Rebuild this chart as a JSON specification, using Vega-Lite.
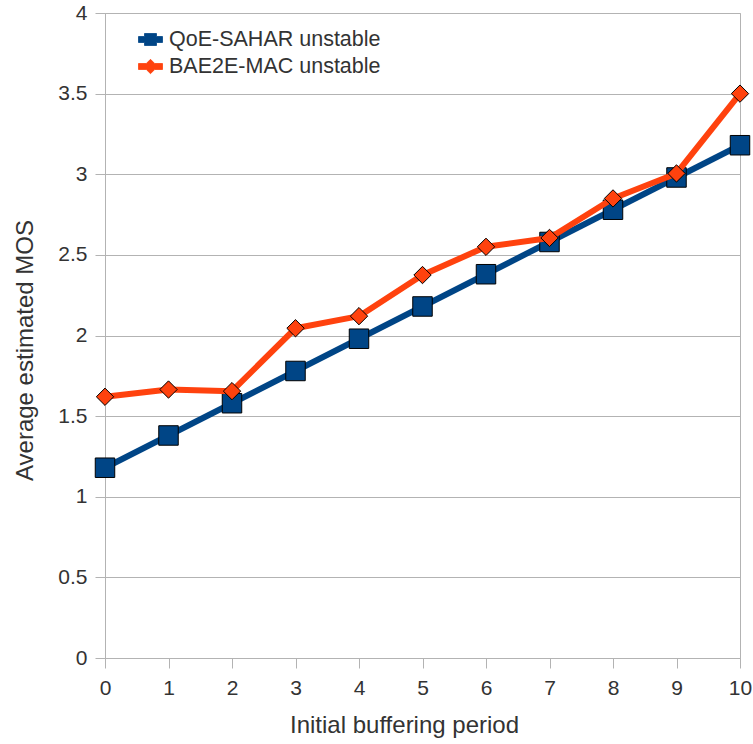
{
  "$schema": "https://vega.github.io/schema/vega-lite/v6.json",
  "width": 635,
  "height": 645,
  "autosize": {"type": "none"},
  "padding": {"left": 105, "top": 13, "right": 13, "bottom": 86},
  "background": "#ffffff",
  "config": {
    "font": "Liberation Sans",
    "view": {"stroke": "#b3b3b3", "strokeWidth": 1},
    "axis": {
      "labelFont": "Liberation Sans",
      "titleFont": "Liberation Sans",
      "labelColor": "#333333",
      "titleColor": "#333333",
      "labelFontSize": 21,
      "titleFontSize": 24,
      "titleFontWeight": "normal",
      "domainColor": "#b3b3b3",
      "tickColor": "#b3b3b3",
      "gridColor": "#b3b3b3",
      "gridWidth": 1,
      "tickSize": 10,
      "labelFlush": false,
      "labelOverlap": false
    }
  },
  "data": {
    "values": [
      {"period": 0, "series": "QoE-SAHAR unstable", "mos": 1.18},
      {"period": 1, "series": "QoE-SAHAR unstable", "mos": 1.38},
      {"period": 2, "series": "QoE-SAHAR unstable", "mos": 1.58},
      {"period": 3, "series": "QoE-SAHAR unstable", "mos": 1.78},
      {"period": 4, "series": "QoE-SAHAR unstable", "mos": 1.98},
      {"period": 5, "series": "QoE-SAHAR unstable", "mos": 2.18},
      {"period": 6, "series": "QoE-SAHAR unstable", "mos": 2.38},
      {"period": 7, "series": "QoE-SAHAR unstable", "mos": 2.58},
      {"period": 8, "series": "QoE-SAHAR unstable", "mos": 2.78},
      {"period": 9, "series": "QoE-SAHAR unstable", "mos": 2.98},
      {"period": 10, "series": "QoE-SAHAR unstable", "mos": 3.18},
      {"period": 0, "series": "BAE2E-MAC unstable", "mos": 1.62},
      {"period": 1, "series": "BAE2E-MAC unstable", "mos": 1.665},
      {"period": 2, "series": "BAE2E-MAC unstable", "mos": 1.655},
      {"period": 3, "series": "BAE2E-MAC unstable", "mos": 2.045},
      {"period": 4, "series": "BAE2E-MAC unstable", "mos": 2.12},
      {"period": 5, "series": "BAE2E-MAC unstable", "mos": 2.375},
      {"period": 6, "series": "BAE2E-MAC unstable", "mos": 2.55},
      {"period": 7, "series": "BAE2E-MAC unstable", "mos": 2.605},
      {"period": 8, "series": "BAE2E-MAC unstable", "mos": 2.85},
      {"period": 9, "series": "BAE2E-MAC unstable", "mos": 3.005},
      {"period": 10, "series": "BAE2E-MAC unstable", "mos": 3.5}
    ]
  },
  "encoding": {
    "x": {
      "field": "period",
      "type": "quantitative",
      "scale": {"domain": [0, 10], "nice": false},
      "axis": {
        "title": "Initial buffering period",
        "values": [0, 1, 2, 3, 4, 5, 6, 7, 8, 9, 10],
        "format": "d",
        "grid": false,
        "labelPadding": 9,
        "titlePadding": 15,
        "titleX": 299
      }
    },
    "y": {
      "field": "mos",
      "type": "quantitative",
      "scale": {"domain": [0, 4], "nice": false},
      "axis": {
        "title": "Average estimated MOS",
        "values": [0, 0.5, 1, 1.5, 2, 2.5, 3, 3.5, 4],
        "format": "~g",
        "grid": true,
        "labelPadding": 8,
        "titlePadding": 20,
        "titleY": 337
      }
    },
    "color": {
      "field": "series",
      "type": "nominal",
      "scale": {
        "domain": ["QoE-SAHAR unstable", "BAE2E-MAC unstable"],
        "range": ["#004586", "#ff420e"]
      },
      "legend": {
        "orient": "none",
        "legendX": 33,
        "legendY": 14,
        "title": null,
        "labelFont": "Liberation Sans",
        "labelFontSize": 21.5,
        "labelColor": "#333333",
        "labelLimit": 0,
        "labelOffset": 6,
        "symbolSize": 576,
        "rowPadding": 4,
        "encode": {
          "symbols": {
            "update": {
              "shape": {"signal": "datum.value === 'QoE-SAHAR unstable' ? 'M-1,-0.25L-0.5,-0.25L-0.5,-0.5L0.5,-0.5L0.5,-0.25L1,-0.25L1,0.25L0.5,0.25L0.5,0.5L-0.5,0.5L-0.5,0.25L-1,0.25Z' : 'M-1,-0.25L-0.35,-0.25L0,-0.6L0.35,-0.25L1,-0.25L1,0.25L0.35,0.25L0,0.6L-0.35,0.25L-1,0.25Z'"},
              "fill": {"signal": "datum.value === 'QoE-SAHAR unstable' ? '#004586' : '#ff420e'"},
              "stroke": {"value": "#000000"},
              "strokeWidth": {"value": 0.8},
              "opacity": {"value": 1},
              "fillOpacity": {"value": 1}
            }
          }
        }
      }
    }
  },
  "layer": [
    {
      "transform": [{"filter": "datum.series === 'QoE-SAHAR unstable'"}],
      "mark": {"type": "line", "strokeWidth": 6, "strokeJoin": "round"}
    },
    {
      "transform": [{"filter": "datum.series === 'QoE-SAHAR unstable'"}],
      "mark": {"type": "point", "shape": "square", "size": 380, "filled": true, "opacity": 1, "stroke": "#000000", "strokeWidth": 1}
    },
    {
      "transform": [{"filter": "datum.series === 'BAE2E-MAC unstable'"}],
      "mark": {"type": "line", "strokeWidth": 6, "strokeJoin": "round"}
    },
    {
      "transform": [{"filter": "datum.series === 'BAE2E-MAC unstable'"}],
      "mark": {"type": "point", "shape": "diamond", "size": 300, "filled": true, "opacity": 1, "stroke": "#000000", "strokeWidth": 1}
    }
  ]
}
